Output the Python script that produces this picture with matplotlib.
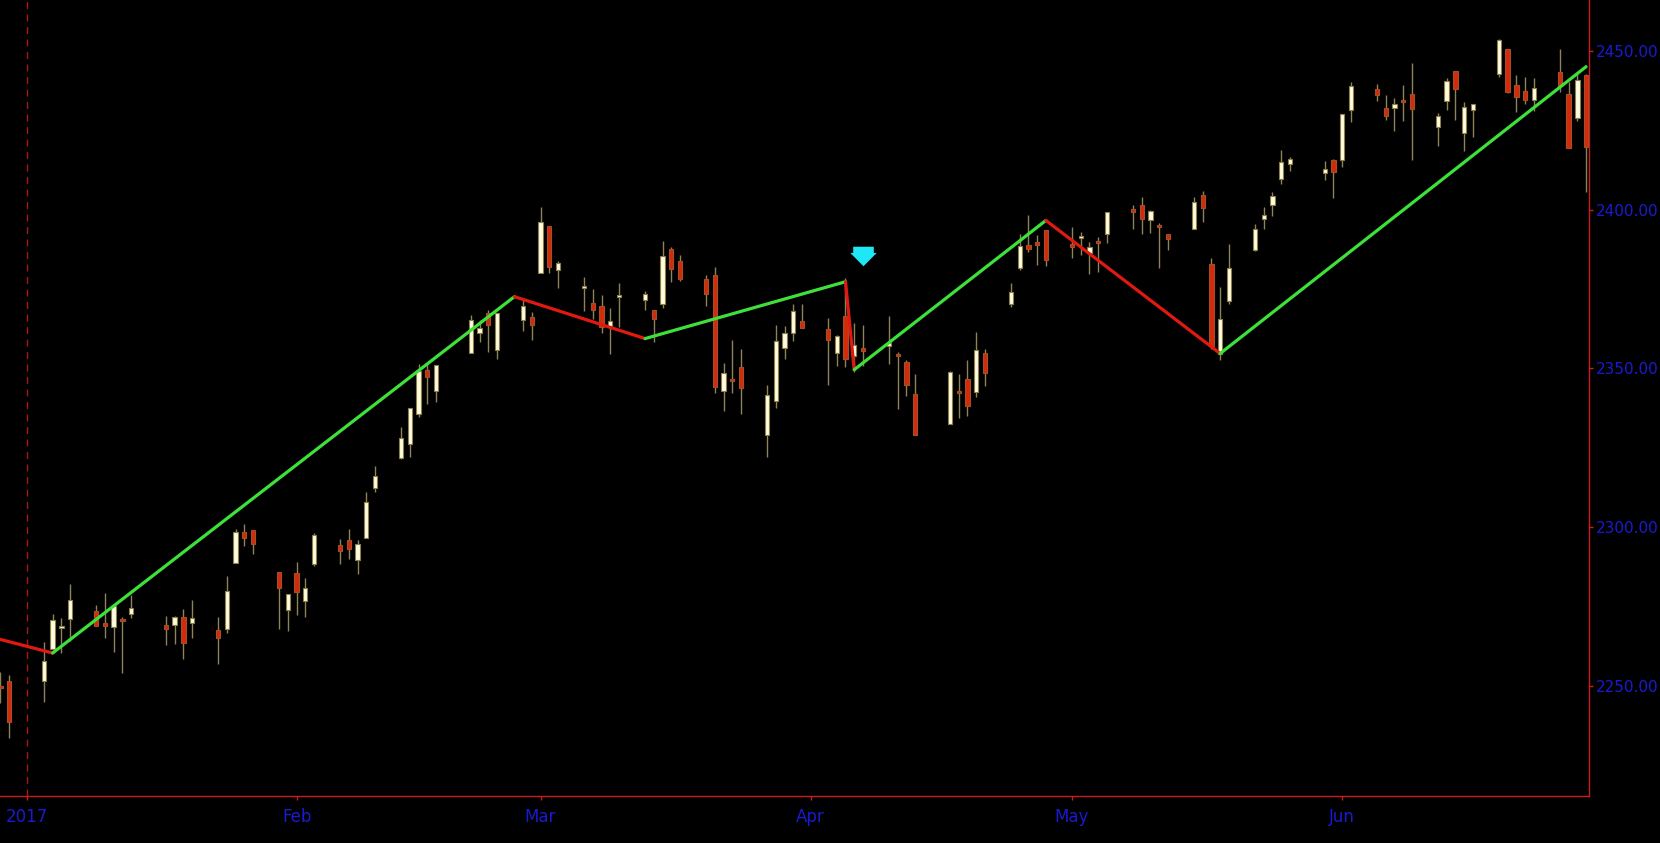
import numpy as np
import pandas as pd
import matplotlib
matplotlib.use("Agg")
import matplotlib.pyplot as plt
import matplotlib.dates as mdates
from matplotlib.path import Path

# daily OHLC, 29 Dec 2016 .. 29 Jun 2017
holidays = ["2017-01-02", "2017-01-16", "2017-02-20", "2017-04-14", "2017-05-29"]
days = pd.bdate_range("2016-12-29", "2017-06-29")
days = days[~days.isin(pd.to_datetime(holidays))]

opens = [2249.50, 2251.61,
         2251.57, 2261.60, 2268.18, 2271.14, 2273.59, 2269.72, 2268.60, 2271.14, 2272.74, 2269.14,
         2269.14, 2271.90, 2269.96, 2267.78, 2267.88, 2288.88, 2298.63, 2299.02, 2286.01, 2274.02,
         2285.59, 2276.69, 2288.54, 2294.28, 2295.87, 2289.55, 2296.70, 2312.27, 2321.72, 2326.12,
         2335.58, 2349.64, 2343.01, 2354.91, 2361.11, 2367.50, 2355.73, 2365.23, 2366.08,
         2380.13, 2394.75, 2380.92, 2375.23, 2370.74, 2369.81, 2363.49, 2372.52, 2371.56, 2368.55,
         2370.34, 2387.71, 2383.71, 2378.24, 2379.32, 2343.00, 2345.97, 2350.42, 2329.11, 2339.79,
         2356.54, 2361.31, 2364.82,
         2362.34, 2354.76, 2366.59, 2353.79, 2356.59, 2357.16, 2353.92, 2352.15, 2341.98, 2332.62,
         2342.53, 2346.79, 2342.69, 2354.74, 2370.33, 2381.51, 2388.98, 2389.70, 2393.68,
         2388.50, 2391.05, 2386.50, 2389.79, 2392.37, 2399.94, 2401.58, 2396.79, 2394.84, 2392.44,
         2393.98, 2404.55, 2382.95, 2354.69, 2371.37, 2387.21, 2397.04, 2401.41, 2409.54, 2414.50,
         2411.67, 2415.63,
         2415.65, 2431.28, 2437.83, 2431.92, 2432.03, 2434.27, 2436.39, 2425.88, 2434.15, 2443.75,
         2424.14, 2431.24, 2442.55, 2450.66, 2439.31, 2437.40, 2434.65, 2443.32, 2436.34, 2428.70,
         2442.38]
highs = [2254.51, 2253.58,
         2263.88, 2272.82, 2271.50, 2282.10, 2275.49, 2279.27, 2275.32, 2271.78, 2278.68, 2272.08,
         2272.01, 2274.33, 2276.96, 2271.78, 2284.63, 2299.55, 2300.99, 2299.02, 2286.01, 2279.09,
         2289.14, 2283.97, 2298.31, 2296.18, 2299.40, 2295.91, 2311.08, 2319.23, 2331.58, 2337.58,
         2351.30, 2351.31, 2351.16, 2366.71, 2365.13, 2368.26, 2367.34, 2371.54, 2367.79,
         2400.98, 2394.75, 2383.89, 2378.80, 2375.12, 2373.09, 2369.08, 2376.86, 2374.42, 2368.55,
         2390.01, 2388.10, 2385.71, 2379.55, 2381.93, 2351.81, 2358.92, 2356.22, 2344.90, 2363.78,
         2363.36, 2370.42, 2370.35,
         2365.87, 2360.53, 2378.36, 2364.16, 2363.76, 2366.37, 2355.22, 2352.72, 2348.26, 2349.14,
         2348.35, 2352.63, 2361.37, 2356.18, 2376.98, 2392.48, 2398.16, 2392.10, 2393.68,
         2394.49, 2392.93, 2389.82, 2391.43, 2399.29, 2401.36, 2403.87, 2399.74, 2395.72, 2392.44,
         2404.05, 2405.77, 2384.87, 2375.74, 2389.06, 2395.46, 2400.85, 2405.58, 2418.71, 2416.68,
         2415.26, 2415.99,
         2430.06, 2440.23, 2439.55, 2436.21, 2435.28, 2439.27, 2446.20, 2430.38, 2441.49, 2443.75,
         2433.95, 2433.15, 2453.82, 2450.66, 2442.23, 2441.62, 2441.40, 2450.42, 2440.15, 2442.97,
         2442.73]
lows = [2244.56, 2233.62,
        2245.13, 2261.60, 2260.45, 2264.06, 2268.90, 2265.27, 2260.83, 2254.25, 2271.51, 2262.81,
        2263.35, 2258.41, 2265.01, 2257.02, 2266.68, 2288.88, 2294.08, 2291.62, 2268.04, 2267.21,
        2272.44, 2271.65, 2287.88, 2288.57, 2290.16, 2285.38, 2296.61, 2311.10, 2321.42, 2322.17,
        2334.81, 2338.87, 2339.58, 2354.91, 2358.34, 2355.09, 2352.87, 2361.87, 2358.96,
        2380.13, 2380.17, 2375.39, 2367.98, 2365.51, 2361.01, 2354.54, 2363.04, 2368.52, 2358.18,
        2368.94, 2377.18, 2377.64, 2369.66, 2342.24, 2336.45, 2342.13, 2335.74, 2322.25, 2337.63,
        2352.94, 2358.58, 2362.60,
        2344.73, 2350.72, 2350.52, 2348.90, 2350.74, 2351.50, 2337.25, 2341.18, 2328.95, 2332.51,
        2334.54, 2335.05, 2340.91, 2344.51, 2369.19, 2381.15, 2386.78, 2382.68, 2382.36,
        2384.83, 2385.82, 2379.75, 2380.35, 2389.38, 2393.92, 2392.44, 2392.79, 2381.74, 2387.19,
        2393.94, 2396.05, 2356.21, 2352.72, 2370.43, 2386.92, 2393.88, 2397.99, 2408.01, 2412.20,
        2409.43, 2403.59,
        2413.54, 2427.71, 2434.32, 2428.12, 2424.75, 2427.94, 2415.70, 2419.97, 2431.28, 2428.34,
        2418.53, 2422.88, 2441.79, 2436.60, 2430.74, 2433.27, 2431.11, 2437.03, 2419.38, 2428.02,
        2405.70]
closes = [2249.26, 2238.83,
          2257.83, 2270.75, 2269.00, 2276.98, 2268.90, 2268.90, 2275.32, 2270.44, 2274.64, 2267.89,
          2271.89, 2263.69, 2271.31, 2265.20, 2280.07, 2298.37, 2296.68, 2294.69, 2280.90, 2278.87,
          2279.55, 2280.85, 2297.42, 2292.56, 2293.08, 2294.67, 2307.87, 2316.10, 2328.25, 2337.58,
          2349.25, 2347.22, 2351.16, 2365.38, 2362.82, 2363.81, 2367.34, 2369.75, 2363.64,
          2395.96, 2381.92, 2383.12, 2375.31, 2368.39, 2362.98, 2364.87, 2372.60, 2373.47, 2365.45,
          2385.26, 2381.38, 2378.25, 2373.47, 2344.02, 2348.45, 2345.96, 2343.98, 2341.59, 2358.57,
          2361.13, 2368.06, 2362.72,
          2358.84, 2360.16, 2352.95, 2357.49, 2355.54, 2357.16, 2353.78, 2344.93, 2328.95, 2349.01,
          2342.19, 2338.17, 2355.84, 2348.69, 2374.15, 2388.61, 2387.45, 2388.77, 2384.20,
          2388.33, 2391.17, 2388.13, 2389.52, 2399.29, 2399.38, 2396.92, 2399.63, 2394.44, 2390.90,
          2402.32, 2400.67, 2357.03, 2365.72, 2381.73, 2394.02, 2398.42, 2404.39, 2415.07, 2415.82,
          2412.91, 2411.80,
          2430.06, 2439.07, 2436.10, 2429.33, 2433.14, 2433.79, 2431.77, 2429.39, 2440.35, 2437.92,
          2432.46, 2433.15, 2453.46, 2437.03, 2435.61, 2434.50, 2438.30, 2439.07, 2419.38, 2440.69,
          2419.70]

# zigzag overlay
zz_dates = ["2016-12-28", "2017-01-04", "2017-02-26", "2017-03-13", "2017-04-05",
            "2017-04-06", "2017-04-28", "2017-05-18", "2017-06-29"]
zz_values = [2265.4, 2260.4, 2372.6, 2359.4, 2377.3, 2349.6, 2396.6, 2354.7, 2445.0]

signal_date = "2017-04-07"
signal_price = 2385.3

month_ticks = ["2017-01-01", "2017-02-01", "2017-03-01", "2017-04-01", "2017-05-01", "2017-06-01"]
month_labels = ["2017", "Feb", "Mar", "Apr", "May", "Jun"]
price_ticks = [2250, 2300, 2350, 2400, 2450]

o = np.array(opens); h = np.array(highs); l = np.array(lows); c = np.array(closes)
x = mdates.date2num(days)
up = c >= o

fig = plt.figure(figsize=(16.6, 8.43), dpi=100, facecolor="black")
ax = fig.add_axes([0, 0.0558, 0.957, 0.9442], facecolor="black")

ax.axvline(mdates.date2num(pd.Timestamp("2017-01-01")), color="#a81818", lw=1.0,
           dashes=(5, 4), zorder=1)

ax.vlines(x, l, h, color="#8c8458", lw=1.0, zorder=2)
body_low = np.minimum(o, c)
body_h = np.maximum(np.abs(c - o), 0.7)
ax.bar(x[up], body_h[up], bottom=body_low[up], width=0.5, color="#fffbe0",
       edgecolor="#8c7f48", linewidth=0.8, zorder=3)
ax.bar(x[~up], body_h[~up], bottom=body_low[~up], width=0.5, color="#d42a0a",
       edgecolor="#a0502a", linewidth=0.8, zorder=3)

zx = mdates.date2num(pd.to_datetime(zz_dates))
for i in range(len(zx) - 1):
    col = "#3ee03a" if zz_values[i + 1] > zz_values[i] else "#e01a10"
    ax.plot(zx[i:i + 2], zz_values[i:i + 2], color=col, lw=2.3,
            solid_capstyle="round", zorder=4)

arrow = Path([(-0.78, 0.74), (0.78, 0.74), (0.78, 0.27), (1.0, 0.27), (0.0, -0.74),
              (-1.0, 0.27), (-0.78, 0.27), (-0.78, 0.74)])
ax.plot(mdates.date2num(pd.Timestamp(signal_date)), signal_price, marker=arrow,
        markersize=19, color="#1ee8f5", markeredgewidth=0, linestyle="none", zorder=5)

ax.set_xlim(mdates.date2num(pd.Timestamp("2016-12-28 23:00")),
            mdates.date2num(pd.Timestamp("2017-06-29 07:00")))
ax.set_ylim(2215.4, 2466)

ax.set_xticks(mdates.date2num(pd.to_datetime(month_ticks)))
ax.set_xticklabels(month_labels, fontsize=12)
ax.yaxis.tick_right()
ax.set_yticks(price_ticks)
ax.set_yticklabels([f"{v:.2f}" for v in price_ticks], fontsize=11)
ax.tick_params(axis="both", colors="#c81e1e", labelcolor="#1a1ad2", length=3, width=1)
ax.tick_params(axis="y", pad=2)
ax.tick_params(axis="x", pad=6)

for side in ["top", "left"]:
    ax.spines[side].set_visible(False)
for side in ["right", "bottom"]:
    ax.spines[side].set_color("#c81e1e")
    ax.spines[side].set_linewidth(1.0)

fig.savefig("out.png", dpi=100, facecolor="black")
